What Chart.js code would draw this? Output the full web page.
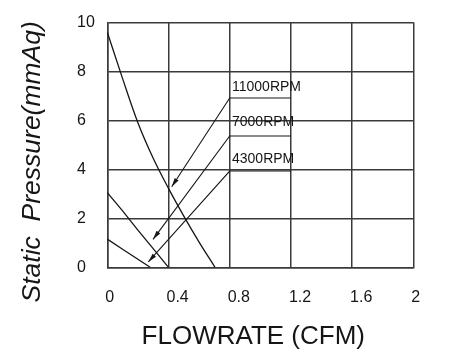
<!DOCTYPE html>
<html>
<head>
<meta charset="utf-8">
<script src="https://cdn.jsdelivr.net/npm/chart.js@4/dist/chart.umd.min.js"></script>
<style>
  html, body { margin: 0; padding: 0; background: #ffffff; }
  #c { display: block; }
</style>
</head>
<body>
<canvas id="c" width="461" height="361"></canvas>
<script>
// ---- data ----
const xTickLabels = ['0', '0.4', '0.8', '1.2', '1.6', '2'];
const yTickLabels = ['0', '2', '4', '6', '8', '10'];

// fan curves: flowrate (CFM) vs static pressure (mmAq)
const flow11000 = [0, 0.1, 0.2, 0.3, 0.4, 0.5, 0.6, 0.704];
const pres11000 = [9.6, 7.7, 5.9, 4.45, 3.22, 2.09, 1.03, 0];
const flow7000 = [0, 0.1, 0.2, 0.3, 0.4];
const pres7000 = [3.05, 2.3, 1.52, 0.76, 0];
const flow4300 = [0, 0.1, 0.2, 0.28];
const pres4300 = [1.15, 0.74, 0.33, 0];

// curve annotations (callouts)
const rpmLabels = ['11000RPM', '7000RPM', '4300RPM'];
const calloutStartX = [0.8, 0.8, 0.8];
const calloutEndX = [1.2, 1.2, 1.2];
const calloutLevel = [6.91, 5.36, 3.93];
const arrowTipX = [0.421, 0.299, 0.268];
const arrowTipY = [3.29, 1.14, 0.22];
const labelX = [0.815, 0.815, 0.815];
const labelY = [7.2, 5.78, 4.24];

const xTitle = 'FLOWRATE (CFM)';
const yTitle = 'Static  Pressure(mmAq)';

// ---- build datasets ----
const FONT = '"Liberation Sans", Arial, Helvetica, sans-serif';
const INK = '#161616';
function pts(xs, ys) { return xs.map((x, i) => ({ x: x, y: ys[i] })); }

const datasets = [
  { label: '11000RPM', data: pts(flow11000, pres11000), cubicInterpolationMode: 'monotone' },
  { label: '7000RPM', data: pts(flow7000, pres7000) },
  { label: '4300RPM', data: pts(flow4300, pres4300) }
].map(d => Object.assign({
  borderColor: INK, borderWidth: 1.3, pointRadius: 0, fill: false, tension: 0
}, d));

rpmLabels.forEach((lab, i) => {
  datasets.push({
    label: lab + ' callout',
    data: [
      { x: calloutEndX[i], y: calloutLevel[i] },
      { x: calloutStartX[i], y: calloutLevel[i] },
      { x: arrowTipX[i], y: arrowTipY[i] }
    ],
    borderColor: INK, borderWidth: 1.1, pointRadius: 0, fill: false, tension: 0
  });
});

// arrowheads + RPM labels drawn via scale pixel conversion
const calloutPlugin = {
  id: 'callouts',
  afterDatasetsDraw(chart) {
    const ctx = chart.ctx, xs = chart.scales.x, ys = chart.scales.y;
    ctx.save();
    ctx.fillStyle = INK;
    rpmLabels.forEach((lab, i) => {
      const tx = xs.getPixelForValue(arrowTipX[i]);
      const ty = ys.getPixelForValue(arrowTipY[i]);
      const sx = xs.getPixelForValue(calloutStartX[i]);
      const sy = ys.getPixelForValue(calloutLevel[i]);
      const ang = Math.atan2(ty - sy, tx - sx);
      const len = 9, hw = 2.3;
      const bx = tx - len * Math.cos(ang), by = ty - len * Math.sin(ang);
      ctx.beginPath();
      ctx.moveTo(tx, ty);
      ctx.lineTo(bx + hw * Math.sin(ang), by - hw * Math.cos(ang));
      ctx.lineTo(bx - hw * Math.sin(ang), by + hw * Math.cos(ang));
      ctx.closePath();
      ctx.fill();
      ctx.font = '14px ' + FONT;
      ctx.textAlign = 'left';
      ctx.textBaseline = 'alphabetic';
      ctx.fillText(lab, xs.getPixelForValue(labelX[i]), ys.getPixelForValue(labelY[i]));
    });
    ctx.restore();
  }
};

// axis titles
const titlePlugin = {
  id: 'axisTitles',
  afterDraw(chart) {
    const ctx = chart.ctx, a = chart.chartArea;
    ctx.save();
    ctx.fillStyle = INK;
    ctx.font = '26px ' + FONT;
    ctx.textAlign = 'center';
    ctx.textBaseline = 'alphabetic';
    ctx.fillText(xTitle, (a.left + a.right) / 2 - 7, a.bottom + 77);
    ctx.translate(39.5, (a.top + a.bottom) / 2 + 17);
    ctx.rotate(-Math.PI / 2);
    ctx.font = 'italic 26.5px ' + FONT;
    ctx.fillText(yTitle, 0, 0);
    ctx.restore();
  }
};

const GRID = '#3a3a3a';
new Chart(document.getElementById('c'), {
  type: 'line',
  data: { datasets: datasets },
  options: {
    responsive: false,
    animation: false,
    devicePixelRatio: 1,
    layout: { padding: { left: 77, right: 47.7, top: 22.3, bottom: 43.7 } },
    plugins: { legend: { display: false }, tooltip: { enabled: false } },
    scales: {
      x: {
        type: 'linear', min: 0, max: 2,
        afterFit(s) { s.height = 50; },
        grid: { color: GRID, lineWidth: 1.5, drawTicks: false },
        border: { color: GRID, width: 1.5 },
        ticks: {
          stepSize: 0.4, autoSkip: false, maxRotation: 0, align: 'start', labelOffset: -2,
          padding: 21, color: INK, font: { family: FONT, size: 16 },
          callback: (v, i) => xTickLabels[i]
        }
      },
      y: {
        type: 'linear', min: 0, max: 10,
        afterFit(s) { s.width = 30.3; },
        grid: { color: GRID, lineWidth: 1.5, drawTicks: false },
        border: { color: GRID, width: 1.5 },
        ticks: {
          stepSize: 2, autoSkip: false, crossAlign: 'far',
          color: INK, font: { family: FONT, size: 16 },
          callback: (v, i) => yTickLabels[i]
        }
      }
    }
  },
  plugins: [calloutPlugin, titlePlugin]
});
</script>
</body>
</html>
